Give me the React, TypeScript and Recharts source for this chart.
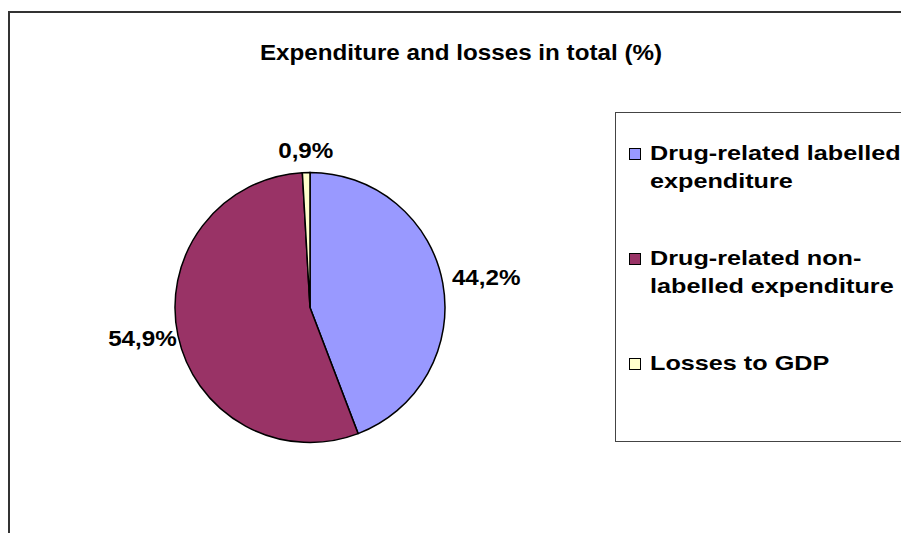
import React from 'react';
import { PieChart, Pie, Cell, Legend } from 'recharts';

const sliceNames = [
  'Drug-related labelled expenditure',
  'Drug-related non-labelled expenditure',
  'Losses to GDP',
];
const sliceValues = [44.2, 54.9, 0.9];
const sliceLabels = ['44,2%', '54,9%', '0,9%'];
const sliceColors = ['#9999FF', '#993366', '#FFFFCC'];
const chartTitle = 'Expenditure and losses in total (%)';

const data = sliceNames.map((name, i) => ({
  name,
  value: sliceValues[i],
  label: sliceLabels[i],
}));

const FONT = '"Liberation Sans", Arial, sans-serif';
const RADIAN = Math.PI / 180;

const renderLabel = (props: any) => {
  const { cx, cy, midAngle, outerRadius, index } = props;
  const cos = Math.cos(-midAngle * RADIAN);
  const sin = Math.sin(-midAngle * RADIAN);
  // labels near the top sit a bit further out, like Excel's best fit
  const gap = 8 + 7 * Math.abs(sin);
  const r = outerRadius + gap;
  let x = cx + r * cos;
  const y = cy + r * sin;
  let anchor: 'start' | 'middle' | 'end' = 'middle';
  if (cos > 0.3) anchor = 'start';
  else if (cos < -0.3) {
    anchor = 'end';
    x += 8;
  }
  const baseline = sin < -0.7 ? y : sin > 0.7 ? y + 16 : y + (cos > 0 ? 4 : 8);
  return (
    <text
      x={0}
      y={0}
      transform={`translate(${x},${baseline}) scale(1.1,1)`}
      textAnchor={anchor}
      fontFamily={FONT}
      fontWeight="bold"
      fontSize={22}
      fill="#000"
    >
      {data[index].label}
    </text>
  );
};

const renderLegend = (props: any) => {
  const { payload } = props;
  return (
    <div
      style={{
        width: 300,
        height: 330,
        borderTop: '1px solid #444',
        borderLeft: '1px solid #444',
        borderBottom: '1px solid #444',
        boxSizing: 'border-box',
        background: '#fff',
        paddingTop: 26,
      }}
    >
      {(payload || []).map((entry: any, i: number) => (
        <div
          key={i}
          style={{
            position: 'relative',
            marginTop: i === 0 ? 0 : 49,
            height: i === 2 ? 28 : 56,
          }}
        >
          <div
            style={{
              position: 'absolute',
              left: 13,
              top: 9,
              width: 10,
              height: 10,
              border: '1.5px solid #000',
              background: entry.color,
            }}
          />
          <div
            style={{
              position: 'absolute',
              left: 34,
              top: 0,
              width: 215,
              fontFamily: FONT,
              fontWeight: 'bold',
              fontSize: 21,
              lineHeight: '28px',
              color: '#000',
              transform: 'scaleX(1.2)',
              transformOrigin: 'left top',
              textAlign: 'left',
            }}
          >
            {entry.value}
          </div>
        </div>
      ))}
    </div>
  );
};

export default function App() {
  return (
    <div
      style={{
        position: 'fixed',
        left: 0,
        top: 0,
        width: 901,
        height: 533,
        overflow: 'hidden',
        background: '#fff',
      }}
    >
      {/* chart area frame, runs off the right and bottom edges */}
      <div
        style={{
          position: 'absolute',
          left: 8,
          top: 11,
          width: 2000,
          height: 2000,
          borderTop: '2px solid #333',
          borderLeft: '2px solid #333',
        }}
      />
      <div
        style={{
          position: 'absolute',
          left: 461,
          top: 40,
          fontFamily: FONT,
          fontWeight: 'bold',
          fontSize: 22,
          whiteSpace: 'nowrap',
          transform: 'translateX(-50%) scaleX(1.1)',
          color: '#000',
        }}
      >
        {chartTitle}
      </div>
      <div style={{ position: 'absolute', left: 0, top: 0, width: 1100, height: 700 }}>
        <PieChart
          width={1100}
          height={700}
          margin={{ top: 0, right: 0, bottom: 0, left: 0 }}
          style={{ outline: 'none' }}
          accessibilityLayer={false}
        >
          <Pie
            data={data}
            dataKey="value"
            nameKey="name"
            cx={310}
            cy={307.5}
            outerRadius={135}
            startAngle={90}
            endAngle={-270}
            stroke="#000"
            strokeWidth={1.5}
            label={renderLabel}
            labelLine={false}
            isAnimationActive={false}
          >
            {data.map((d, i) => (
              <Cell key={d.name} fill={sliceColors[i]} />
            ))}
          </Pie>
          <Legend
            layout="vertical"
            align="right"
            verticalAlign="middle"
            content={renderLegend}
            wrapperStyle={{ position: 'absolute', left: 615, top: 112, width: 300, height: 330 }}
          />
        </PieChart>
      </div>
    </div>
  );
}
